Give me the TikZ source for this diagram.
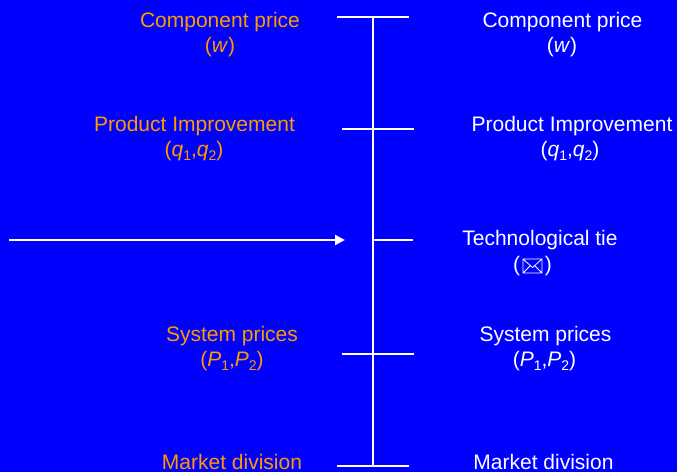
\documentclass[tikz,border=0pt]{standalone}
\usepackage{fontspec}
\setmainfont{Liberation Sans}
\usetikzlibrary{arrows.meta}
\definecolor{slideblue}{RGB}{0,0,255}
\definecolor{labelorange}{RGB}{255,153,0}
% lowered index digit for q_1, P_2 and so on
\newcommand\idx[1]{\raisebox{-0.2em}{\fontsize{14}{14}\selectfont #1}}
% small outlined envelope symbol
\newcommand\envsym{\hspace{2.5pt}\tikz[x=1pt,y=1pt,baseline=2pt]{%
  \draw[white,line width=0.8pt,line join=miter]
    (0,0) rectangle (19,14)
    (0,14) -- (9.5,5.5) -- (19,14)
    (0,0) -- (7.5,7.5)
    (19,0) -- (11.5,7.5);}\hspace{2.5pt}}

\begin{document}
\begin{tikzpicture}[x=1pt,y=-1pt,
  rule/.style={white,line width=2pt},
  lbl/.style={anchor=base,inner sep=0pt,font=\fontsize{21}{25}\selectfont},
  lft/.style={lbl,text=labelorange},
  rgt/.style={lbl,text=white}]
\fill[slideblue] (0,0) rectangle (677,472);
\useasboundingbox (0,0) rectangle (677,472);

% time axis and its tick marks
\coordinate (axTop) at (373,17);
\coordinate (axBot) at (373,466);
\coordinate (t1a) at (337,17);  \coordinate (t1b) at (409,17);
\coordinate (t2a) at (342,129); \coordinate (t2b) at (414,129);
\coordinate (t3a) at (373,240); \coordinate (t3b) at (413,240);
\coordinate (t4a) at (342,354); \coordinate (t4b) at (414,354);
\coordinate (t5a) at (337,466); \coordinate (t5b) at (409,466);
\draw[rule] (axTop) -- (axBot);
\draw[rule] (t1a) -- (t1b);
\draw[rule] (t2a) -- (t2b);
\draw[rule] (t3a) -- (t3b);
\draw[rule] (t4a) -- (t4b);
\draw[rule] (t5a) -- (t5b);

% incoming arrow
\coordinate (arrFrom) at (9,240);
\coordinate (arrTo) at (345,240);
\draw[rule,-{Triangle[length=10pt,width=10pt]}] (arrFrom) -- (arrTo);

% left column
\node[lft] (lCp)  at (220,27)    {Component price};
\node[lft] (lCpV) at (220,52)    {(\textit{w})};
\node[lft] (lPi)  at (194.5,131) {Product Improvement};
\node[lft] (lPiV) at (194,156)   {(\textit{q}\idx{1},\textit{q}\idx{2})};
\node[lft] (lSp)  at (232,341)   {System prices};
\node[lft] (lSpV) at (232,366)   {(\textit{P}\idx{1},\textit{P}\idx{2})};
\node[lft] (lMd)  at (232,469)   {Market division};

% right column
\node[rgt] (rCp)  at (562.5,27)  {Component price};
\node[rgt] (rCpV) at (562,52)    {(\textit{w})};
\node[rgt] (rPi)  at (572,131)   {Product Improvement};
\node[rgt] (rPiV) at (570,156)   {(\textit{q}\idx{1},\textit{q}\idx{2})};
\node[rgt] (rTt)  at (540,245)   {Technological tie};
\node[rgt] (rTtV) at (532.5,271) {(\envsym)};
\node[rgt] (rSp)  at (545.5,341) {System prices};
\node[rgt] (rSpV) at (544.5,366) {(\textit{P}\idx{1},\textit{P}\idx{2})};
\node[rgt] (rMd)  at (543.5,469) {Market division};
\end{tikzpicture}
\end{document}
